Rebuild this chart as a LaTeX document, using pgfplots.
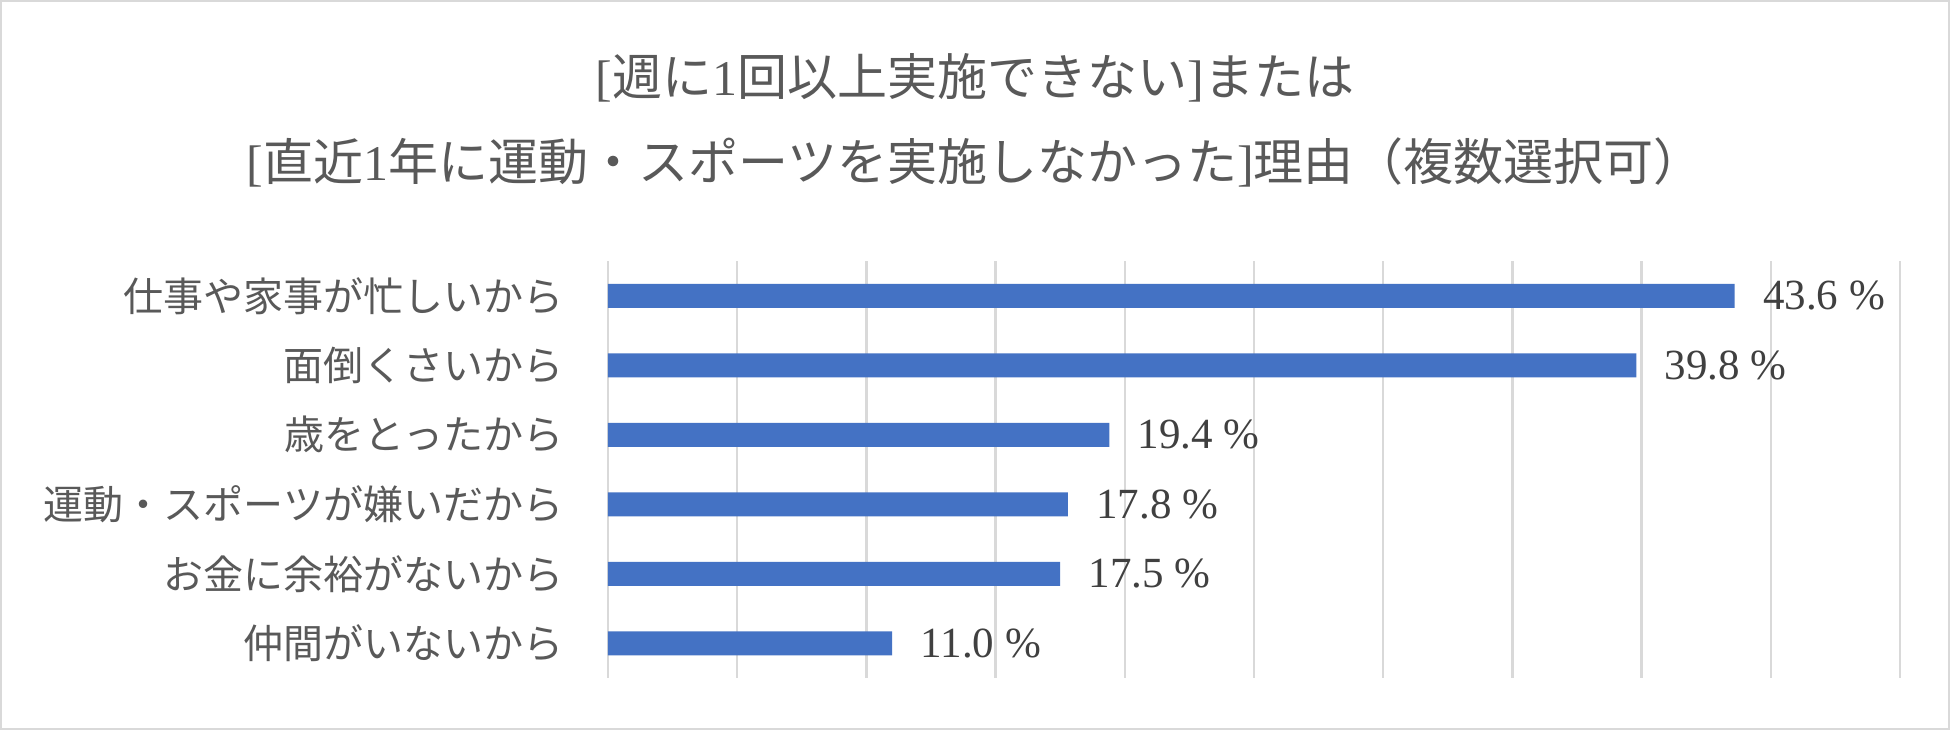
\documentclass[border=0pt]{standalone}
\usepackage{pgfplots}
\pgfplotsset{compat=1.18}
\usepackage{fontspec}
\setmainfont{Liberation Serif}
\newfontfamily\cjk{Noto Sans CJK JP}
\definecolor{barblue}{HTML}{4472C4}
\definecolor{txt}{HTML}{595959}
\definecolor{val}{HTML}{404040}
\definecolor{gridc}{HTML}{D9D9D9}
\begin{document}
\begin{tikzpicture}
\useasboundingbox (0,0) rectangle (975pt,365pt);
\fill[white] (0,0) rectangle (975pt,365pt);
\draw[gridc, line width=1pt] (0.5pt,0.5pt) rectangle (974.5pt,364.5pt);
\node[txt, font=\fontsize{25}{30}\selectfont, inner sep=0pt] at (487.5pt,326pt) {[{\cjk 週に}1{\cjk 回以上実施できない}]{\cjk または}};
\node[txt, font=\fontsize{25}{30}\selectfont, inner sep=0pt] at (487.5pt,284pt) {[{\cjk 直近}1{\cjk 年に運動・スポーツを実施しなかった}]{\cjk 理由（複数選択可）}};
\begin{axis}[
  at={(304pt,26pt)}, anchor=south west,
  scale only axis, width=646pt, height=208.5pt,
  xbar, bar width=12pt,
  xmin=0, xmax=50, ymin=-0.5, ymax=5.5,
  y dir=reverse,
  ytick={0,1,2,3,4,5},
  yticklabels={仕事や家事が忙しいから,面倒くさいから,歳をとったから,運動・スポーツが嫌いだから,お金に余裕がないから,仲間がいないから},
  yticklabel style={font=\cjk\fontsize{20}{24}\selectfont, text=txt, inner sep=0pt, anchor=east, xshift=-18pt},
  xtick={0,5,...,50},
  xticklabel=\empty,
  xmajorgrids,
  major grid style={gridc, line width=1.2pt},
  axis line style={draw=none},
  tick style={draw=none},
  /pgf/number format/assume math mode=true,
  nodes near coords={\pgfmathprintnumber[fixed,fixed zerofill,precision=1]{\pgfplotspointmeta}~\%},
  nodes near coords style={font=\fontsize{21.5}{26}\selectfont, text=val, anchor=west, inner sep=0pt, xshift=14pt},
]
\addplot[fill=barblue, draw=none] coordinates {(43.6,0) (39.8,1) (19.4,2) (17.8,3) (17.5,4) (11.0,5)};
\end{axis}
\end{tikzpicture}
\end{document}
